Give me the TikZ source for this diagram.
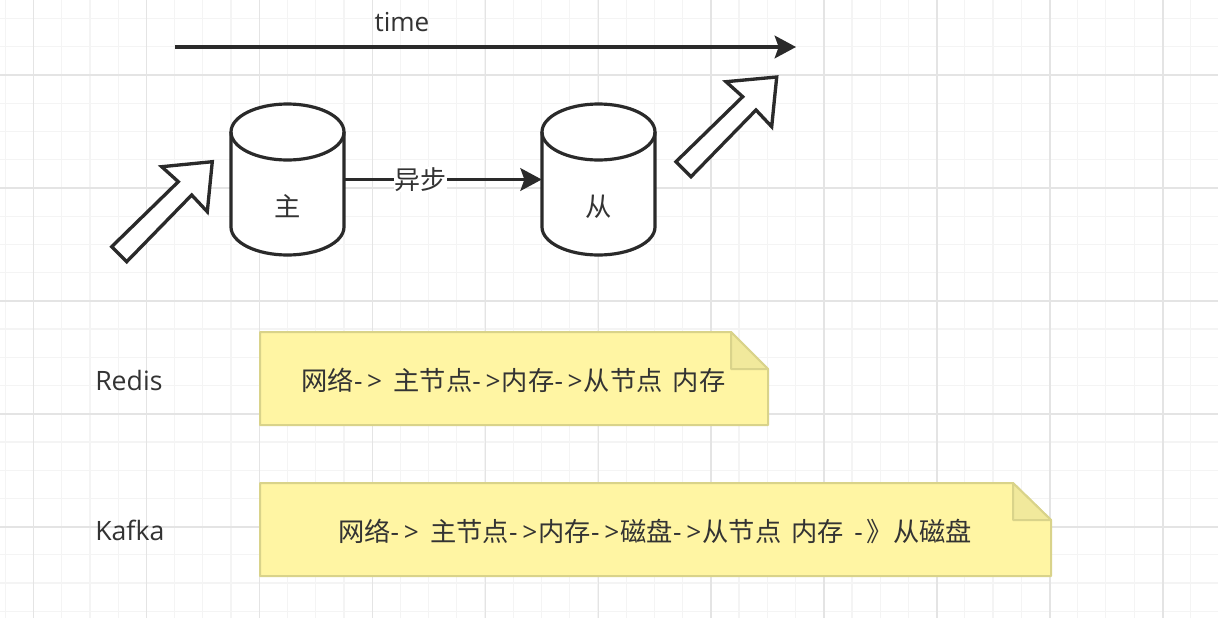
\documentclass[tikz,border=0pt]{standalone}
\usepackage{fontspec}
\setmainfont{Open Sans}
\newfontfamily\cjk{Noto Sans CJK SC}
\usetikzlibrary{arrows.meta}
\definecolor{ink}{HTML}{2A2A2A}
\definecolor{txt}{HTML}{333333}
\definecolor{gmaj}{HTML}{E4E4E4}
\definecolor{gmin}{HTML}{F4F4F4}
\definecolor{notefill}{HTML}{FFF5A3}
\definecolor{noteline}{HTML}{D9D38A}
\definecolor{foldfill}{HTML}{F1E99C}
\newcommand{\arw}{-\kern3.5pt>\kern1pt}
\newcommand{\gap}{\ \kern2.5pt}
\tikzset{
  x=0.75pt,y=-0.75pt,
  thickline/.style={draw=ink,line width=2.4pt,line join=round},
  conn/.style={draw=ink,line width=2.3pt,-{Stealth[length=16pt,width=17pt,inset=3pt]}},
  fatarrow/.style={draw=ink,line width=2.5pt,fill=white,miter limit=10},
  label/.style={text=txt,font=\fontsize{20pt}{24pt}\selectfont,inner sep=0pt},
  timetext/.style={text=txt,font=\fontsize{19.6pt}{24pt}\selectfont,inner sep=0pt},
  cjklabel/.style={text=txt,font=\fontsize{19.7pt}{24pt}\selectfont,inner sep=0pt},
  note/.style={draw=noteline,line width=1.5pt,fill=notefill,line join=round},
  fold/.style={draw=noteline,line width=1.5pt,fill=foldfill,line join=round},
  anchorbox/.style={minimum width=84.75pt,minimum height=113pt,inner sep=0pt},
}
\newcommand{\dbbody}[1]{%
  \path[thickline,fill=white] (#1,132) -- (#1,227) arc[start angle=180,end angle=0,x radius=56.5,y radius=28]
     -- (#1+113,132) arc[start angle=0,end angle=-180,x radius=56.5,y radius=28] -- cycle;
  \path[thickline] (#1,132) arc[start angle=180,end angle=0,x radius=56.5,y radius=28];
}
\begin{document}
\begin{tikzpicture}
\useasboundingbox (0,0) rectangle (1218,618);
\fill[white] (0,0) rectangle (1218,618);
% grid
\foreach \i in {0,...,43}{
  \draw[gmin,line width=0.9pt] ({5.3+28.22*\i},0) -- ({5.3+28.22*\i},618);}
\foreach \i in {0,...,21}{
  \draw[gmin,line width=0.9pt] (0,{18.6+28.22*\i}) -- (1218,{18.6+28.22*\i});}
\foreach \i in {0,...,10}{
  \draw[gmaj,line width=1.1pt] ({33.5+112.95*\i},0) -- ({33.5+112.95*\i},618);}
\foreach \i in {0,...,4}{
  \draw[gmaj,line width=1.1pt] (0,{75+112.95*\i}) -- (1218,{75+112.95*\i});}
% time
\coordinate (tstart) at (175,47);
\coordinate (tend) at (796,47);
\draw[conn] (tstart) -- (tend);
\node[timetext] (timelabel) at (402,22) {time};
% cylinders
\dbbody{231}
\dbbody{542}
\node[anchorbox] (master) at (287.5,179.5) {};
\node[anchorbox] (slave) at (598.5,179.5) {};
\node[cjklabel] (mastertext) at (287.5,206) {\cjk 主};
\node[cjklabel] (slavetext) at (598.5,207) {\cjk 从};
\draw[conn] (master.east) -- (slave.west) node[pos=0.385,fill=white,text=txt,font=\fontsize{19.5pt}{24pt}\selectfont,inner sep=0.5pt] (synclabel) {\cjk 异步};
% fat arrows
\draw[fatarrow] (111.7,246.7) -- (126.7,261.7) -- (191.7,195) -- (207.3,211.7) -- (212.3,161.7) -- (161.7,166.7) -- (178.3,181.7) -- cycle;
\draw[fatarrow] (676,161.7) -- (691,176.7) -- (756,110) -- (771.7,126.7) -- (776.7,77) -- (726,81.7) -- (742.7,96.7) -- cycle;
% notes
\draw[note] (260,332) -- (731,332) -- (768,369) -- (768,425) -- (260,425) -- cycle;
\draw[fold] (731,332) -- (731,369) -- (768,369) -- cycle;
\node[cjklabel] (redisnote) at (513.5,380) {{\cjk 网络}\arw\gap{\cjk 主节点}\arw{\cjk 内存}\arw{\cjk 从节点}\gap{\cjk 内存}};
\draw[note] (260,483) -- (1013,483) -- (1051,520) -- (1051,576) -- (260,576) -- cycle;
\draw[fold] (1013,483) -- (1013,520) -- (1051,520) -- cycle;
\node[cjklabel] (kafkanote) at (655,531) {{\cjk 网络}\arw\gap{\cjk 主节点}\arw{\cjk 内存}\arw{\cjk 磁盘}\arw{\cjk 从节点}\gap{\cjk 内存}\gap-\kern3pt{\cjk 》从磁盘}};
\node[label,anchor=west] (redislabel) at (95,380) {Redis};
\node[label,anchor=west] (kafkalabel) at (95,530) {Kafka};
\end{tikzpicture}
\end{document}
